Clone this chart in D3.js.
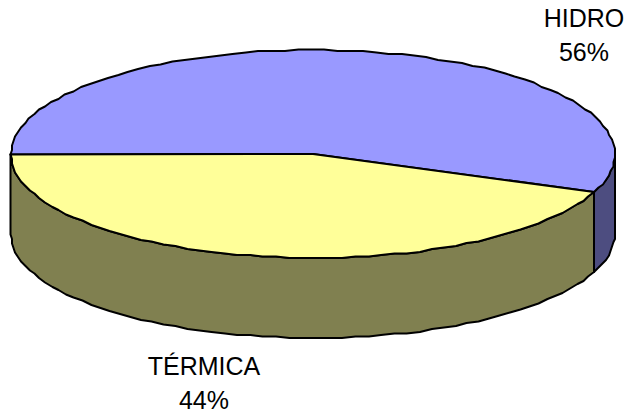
<!DOCTYPE html>
<html>
<head>
<meta charset="utf-8">
<script src="https://cdn.jsdelivr.net/npm/d3@7/dist/d3.min.js"></script>
<style>
  html, body { margin: 0; padding: 0; background: #fff; }
  svg { display: block; }
  text { font-family: "Liberation Sans", Arial, sans-serif; font-size: 25px; fill: #000; text-anchor: middle; }
</style>
</head>
<body>
<script>
// chart data
var categories = ["HIDRO", "TÉRMICA"];
var values = [56, 44];
var topColors = ["#9999ff", "#ffff99"];
var sideColors = ["#4d4d80", "#808050"];

var w = 626, h = 414;
var depth = 80;

var svg = d3.select("body").append("svg")
  .attr("width", w)
  .attr("height", h);

// unit circle onto the tilted ellipse
var xScale = d3.scaleLinear().domain([-1, 1]).range([11, 615]);
var yScale = d3.scaleLinear().domain([-1, 1]).range([50, 258]);

var pie = d3.pie().sort(null).value(function (d) { return d; })
  .startAngle(-Math.PI / 2)
  .endAngle(Math.PI * 1.5);
var slices = pie(values);

// coarse grid gives the bumpy rim of the original
var GRID = 1.5;
function snap(v) { return Math.round(v / GRID) * GRID; }
function px(a) { return snap(xScale(Math.sin(a))); }
function py(a, drop) { return snap(yScale(-Math.cos(a))) + (drop || 0); }

var STEP = Math.PI / 72;
function rimAngles(a0, a1) {
  var n = Math.max(1, Math.round((a1 - a0) / STEP));
  return d3.range(n + 1).map(function (i) { return a0 + (a1 - a0) * i / n; });
}

var line = d3.line().x(function (d) { return d[0]; }).y(function (d) { return d[1]; });

// the wall is only seen on the front half of the rim
function sidePath(s) {
  var a0 = Math.max(s.startAngle, Math.PI / 2);
  var a1 = Math.min(s.endAngle, Math.PI * 1.5);
  if (a0 >= a1) {
    // slice wraps over the top, its wall is between 90deg and the slice end
    a0 = Math.PI / 2;
    a1 = s.endAngle;
  }
  var top = rimAngles(a0, a1).map(function (a) { return [px(a), py(a)]; });
  var bottom = rimAngles(a0, a1).reverse().map(function (a) { return [px(a), py(a, depth)]; });
  return line(top.concat(bottom)) + "Z";
}

function topPath(s) {
  var pts = [[xScale(0), yScale(0)]].concat(
    rimAngles(s.startAngle, s.endAngle).map(function (a) { return [px(a), py(a)]; })
  );
  return line(pts) + "Z";
}

svg.append("g").selectAll("path")
  .data(slices)
  .enter().append("path")
  .attr("d", sidePath)
  .attr("fill", function (d, i) { return sideColors[i]; })
  .attr("stroke", "#000")
  .attr("stroke-width", 2)
  .attr("stroke-linejoin", "round");

svg.append("g").selectAll("path")
  .data(slices)
  .enter().append("path")
  .attr("d", topPath)
  .attr("fill", function (d, i) { return topColors[i]; })
  .attr("stroke", "#000")
  .attr("stroke-width", 2)
  .attr("stroke-linejoin", "round");

// labels
var labelX = [584, 204];
var labelY = [27, 375];
var labels = svg.append("g").selectAll("g")
  .data(categories)
  .enter().append("g");

labels.append("text")
  .attr("x", function (d, i) { return labelX[i]; })
  .attr("y", function (d, i) { return labelY[i]; })
  .text(function (d) { return d; });

labels.append("text")
  .attr("x", function (d, i) { return labelX[i]; })
  .attr("y", function (d, i) { return labelY[i] + 34; })
  .text(function (d, i) { return values[i] + "%"; });
</script>
</body>
</html>
